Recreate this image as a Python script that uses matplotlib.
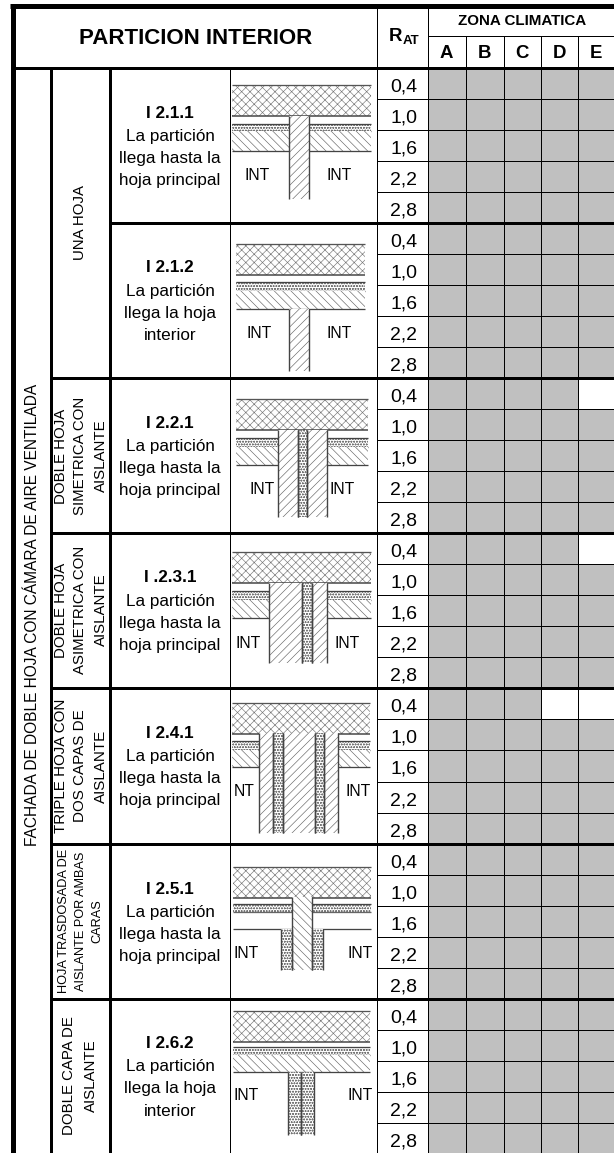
import matplotlib
matplotlib.use('Agg')
import matplotlib.pyplot as plt
from matplotlib.patches import Rectangle

plt.rcParams['font.family'] = ['Liberation Sans', 'DejaVu Sans']
plt.rcParams['hatch.linewidth'] = 0.45

# table contents
rat_values = ['0,4', '1,0', '1,6', '2,2', '2,8']
zones = ['A', 'B', 'C', 'D', 'E']
codes = ['I 2.1.1', 'I 2.1.2', 'I 2.2.1', 'I .2.3.1', 'I 2.4.1', 'I 2.5.1', 'I 2.6.2']
descriptions = ['La partición\nllega hasta la\nhoja principal',
                'La partición\nllega la hoja\ninterior',
                'La partición\nllega hasta la\nhoja principal',
                'La partición\nllega hasta la\nhoja principal',
                'La partición\nllega hasta la\nhoja principal',
                'La partición\nllega hasta la\nhoja principal',
                'La partición\nllega la hoja\ninterior']
side_title = 'FACHADA DE DOBLE HOJA CON CÁMARA DE AIRE VENTILADA'
type_labels = ['UNA HOJA', 'DOBLE HOJA\nSIMETRICA CON\nAISLANTE',
               'DOBLE HOJA\nASIMETRICA CON\nAISLANTE', 'TRIPLE HOJA CON\nDOS CAPAS DE\nAISLANTE',
               'HOJA TRASDOSADA DE\nAISLANTE POR AMBAS\nCARAS', 'DOBLE CAPA DE\nAISLANTE']
# 1 = shaded cell, one row of zones per RAT value
shaded = [
    [[1, 1, 1, 1, 1], [1, 1, 1, 1, 1], [1, 1, 1, 1, 1], [1, 1, 1, 1, 1], [1, 1, 1, 1, 1]],
    [[1, 1, 1, 1, 1], [1, 1, 1, 1, 1], [1, 1, 1, 1, 1], [1, 1, 1, 1, 1], [1, 1, 1, 1, 1]],
    [[1, 1, 1, 1, 0], [1, 1, 1, 1, 1], [1, 1, 1, 1, 1], [1, 1, 1, 1, 1], [1, 1, 1, 1, 1]],
    [[1, 1, 1, 1, 0], [1, 1, 1, 1, 1], [1, 1, 1, 1, 1], [1, 1, 1, 1, 1], [1, 1, 1, 1, 1]],
    [[1, 1, 1, 0, 0], [1, 1, 1, 1, 1], [1, 1, 1, 1, 1], [1, 1, 1, 1, 1], [1, 1, 1, 1, 1]],
    [[1, 1, 1, 1, 1], [1, 1, 1, 1, 1], [1, 1, 1, 1, 1], [1, 1, 1, 1, 1], [1, 1, 1, 1, 1]],
    [[1, 1, 1, 1, 1], [1, 1, 1, 1, 1], [1, 1, 1, 1, 1], [1, 1, 1, 1, 1], [1, 1, 1, 1, 1]],
]

# layout, in pixels of the picture
group_y = [68, 223, 378, 533, 688, 844, 999, 1154]
zone_x = [428, 465.5, 503.5, 540.5, 578, 613.5]
type_y = [223, 456, 610, 766, 921, 1076]
type_x = [[80], [61, 80.5, 100.5], [61, 80.5, 100.5], [61, 80.5, 100.5], [64, 80.5, 97], [69, 91]]
type_size = [10.8, 10.8, 10.8, 10.9, 9.2, 10.8]

fig = plt.figure(figsize=(6.14, 11.53), dpi=100)
ax = fig.add_axes([0, 0, 1, 1])
ax.set_xlim(0, 614)
ax.set_ylim(1153, 0)
ax.axis('off')


def hline(y, x0, x1, w=1.0, c='black'):
    ax.plot([x0, x1], [y, y], color=c, lw=w * 0.72, solid_capstyle='butt')


def vline(x, y0, y1, w=1.0, c='black'):
    ax.plot([x, x], [y0, y1], color=c, lw=w * 0.72, solid_capstyle='butt')


def layer(x0, x1, y0, y1, hatch=None, color='#444444'):
    ax.add_patch(Rectangle((x0, y0), x1 - x0, y1 - y0, facecolor='white', edgecolor=color,
                           lw=0, hatch=hatch, zorder=2))


def int_labels(y, x0, x1, left='INT'):
    ax.text(x0, y, left, ha='center', va='center', fontsize=11.3, zorder=4)
    ax.text(x1, y, 'INT', ha='center', va='center', fontsize=11.3, zorder=4)


def wall(x0, x1, top, y_ins0, y_ins1, y_bot, air=False):
    # the facade layers running across the drawing
    layer(x0, x1, top, top + 31, 'xxxx', '#777777')
    hline(top, x0, x1, 1.3, '#555555')
    hline(top + 31, x0, x1, 1.5, '#444444')
    layer(x0, x1, y_ins0, y_ins1, INS, '#777777')
    hline(y_ins0, x0, x1, 1.3, '#444444')
    hline(y_ins1, x0, x1, 1.3, '#666666')
    if not air:
        layer(x0, x1, y_ins1, y_bot, BK, '#666666')
    hline(y_bot, x0, x1, 1.3, '#444444')


def partition(parts, y0, y1):
    # parts: (x0, x1, hatch) strips side by side
    for x0, x1, hatch in parts:
        color = '#777777' if hatch == INS else '#666666'
        layer(x0, x1, y0, y1, hatch, color)
        for x in (x0, x1):
            ax.plot([x, x], [y0, y1], color='#444444', lw=1.0, solid_capstyle='butt', zorder=3)


HL = '////'
BK = '\\\\\\\\'
INS = 'oooooo'

# zone cells and row lines
for g, group in enumerate(shaded):
    row_h = (group_y[g + 1] - group_y[g]) / len(rat_values)
    for r, row in enumerate(group):
        y = group_y[g] + r * row_h
        for z, val in enumerate(row):
            if val:
                ax.add_patch(Rectangle((zone_x[z], y), zone_x[z + 1] - zone_x[z], row_h,
                                       facecolor='#C0C0C0', edgecolor='none', zorder=0))
        ax.text(403.5, y + row_h / 2 + 8, rat_values[r], ha='center', va='baseline', fontsize=14)
        if r > 0:
            hline(y, 377, 614)
    # code and description
    mid = (group_y[g] + min(group_y[g + 1], 1153)) / 2
    ax.text(170, mid - 28, codes[g], ha='center', va='baseline', fontsize=12.3, fontweight='bold')
    for i, line in enumerate(descriptions[g].split('\n')):
        ax.text(170, mid - 4.5 + i * 22, line, ha='center', va='baseline', fontsize=12.3)

# grid lines
for x in zone_x[:-1]:
    vline(x, 36, 1153)
vline(428, 8, 1153)
vline(377, 8, 1153)
vline(229.5, 68, 1153)
hline(36, 428, 614)
vline(50.5, 68, 1153, 3)
vline(109.5, 68, 1153, 3)
vline(12.5, 5, 1153, 5)
hline(5.5, 10, 614, 5)
hline(68, 15, 614, 3)
hline(223, 109, 614, 3)
for y in group_y[2:-1]:
    hline(y, 50, 614, 3)

# header
ax.text(195.5, 43.5, 'PARTICION INTERIOR', ha='center', va='baseline', fontsize=16, fontweight='bold')
ax.text(389, 41, 'R', ha='left', va='baseline', fontsize=13.4, fontweight='bold')
ax.text(402.5, 43.5, 'AT', ha='left', va='baseline', fontsize=9.5, fontweight='bold')
ax.text(522.5, 21, 'ZONA CLIMATICA', ha='center', va='center', fontsize=10.9, fontweight='bold')
for z, name in enumerate(zones):
    ax.text((zone_x[z] + zone_x[z + 1]) / 2, 53.5, name, ha='center', va='center', fontsize=13.4, fontweight='bold')

# rotated labels
ax.text(32.5, 615, side_title, rotation=90, ha='center', va='center', fontsize=11.2)
for t, label in enumerate(type_labels):
    for i, line in enumerate(label.split('\n')):
        ax.text(type_x[t][i], type_y[t], line, rotation=90, ha='center', va='center', fontsize=type_size[t])

# construction drawings
wall(232, 371, 85, 124, 131, 151)
partition([(289, 309, HL)], 116, 199)
int_labels(175, 257, 339)

wall(236, 365, 244, 282, 291, 309)
partition([(289, 309, HL)], 309, 371)
int_labels(333, 259, 339)

wall(236, 368, 399, 438, 447, 465)
partition([(278, 298, HL), (298, 307, INS), (307, 327, HL)], 430, 517)
int_labels(489, 262, 342)

wall(232, 371, 552, 591, 600, 618)
partition([(269, 302, HL), (302, 312, INS), (312, 327, HL)], 583, 663)
int_labels(643, 248, 347)

wall(232, 370, 703, 741, 750, 767)
partition([(259, 273, HL), (273, 283, INS), (283, 315, HL), (315, 324, INS), (324, 338, HL)], 733, 833)
int_labels(792, 244, 358, left='NT')

wall(233, 371, 867, 904, 912, 929, air=True)
partition([(281, 292, INS), (312, 323, INS)], 929, 970)
partition([(292, 312, BK)], 897, 970)
int_labels(954, 246, 360)

wall(233, 370, 1011, 1047, 1055, 1072)
partition([(288, 301, INS), (301, 314, INS)], 1072, 1135)
int_labels(1096, 246, 360)

fig.savefig('out.png', dpi=100)
